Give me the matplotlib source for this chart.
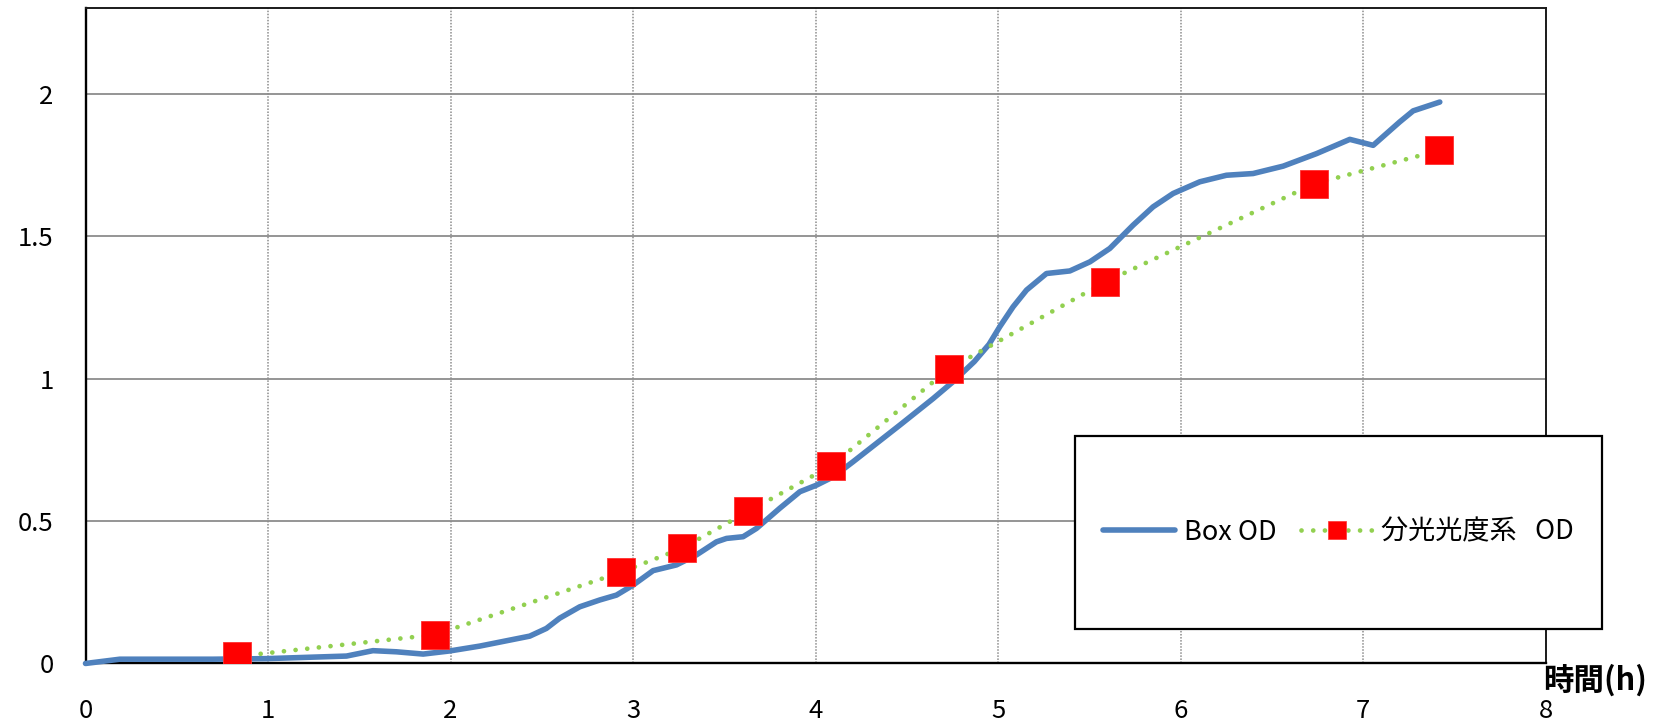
import matplotlib
matplotlib.use("Agg")
import matplotlib.pyplot as plt
from matplotlib.lines import Line2D
from matplotlib.patches import Rectangle

plt.rcParams['font.family'] = ['Noto Sans CJK JP', 'DejaVu Sans']

# ---- data ----
box_t = [0.0, 0.188, 0.699, 0.991, 1.43, 1.575, 1.703, 1.85, 1.996, 2.16,
         2.434, 2.525, 2.598, 2.708, 2.818, 2.909, 3.0, 3.11, 3.238, 3.347,
         3.457, 3.512, 3.603, 3.676, 3.804, 3.914, 4.005, 4.096, 4.205, 4.462,
         4.644, 4.753, 4.87, 4.95, 5.009, 5.082, 5.156, 5.265, 5.393, 5.503,
         5.612, 5.740, 5.849, 5.959, 6.105, 6.251, 6.397, 6.562, 6.745, 6.927,
         7.055, 7.2, 7.274, 7.42]
box_od = [0.0, 0.015, 0.015, 0.017, 0.026, 0.045, 0.041, 0.033, 0.044, 0.061,
          0.096, 0.123, 0.159, 0.199, 0.223, 0.240, 0.275, 0.326, 0.346, 0.381,
          0.427, 0.439, 0.445, 0.474, 0.545, 0.603, 0.626, 0.655, 0.708, 0.837,
          0.930, 0.989, 1.06, 1.12, 1.182, 1.252, 1.311, 1.369, 1.378, 1.410,
          1.457, 1.539, 1.603, 1.650, 1.691, 1.714, 1.720, 1.746, 1.790, 1.840,
          1.819, 1.901, 1.940, 1.971]

spec_t = [0.832, 1.915, 2.933, 3.267, 3.632, 4.083, 4.733, 5.583, 6.732, 7.416]
spec_od = [0.025, 0.101, 0.320, 0.404, 0.534, 0.693, 1.035, 1.338, 1.684, 1.801]

x_ticks = [0, 1, 2, 3, 4, 5, 6, 7, 8]
y_ticks = [0, 0.5, 1, 1.5, 2]
y_tick_labels = ["0", "0.5", "1", "1.5", "2"]
label_box = "Box OD"
label_spec = "分光光度系   OD"
x_label = "時間(h)"

BLUE = "#4F81BD"
GREEN = "#92D050"
RED = "#FF0000"
dot_style = (0, (0.01, 2.47))

fig = plt.figure(figsize=(16.57, 7.24), dpi=100)
ax = fig.add_axes([0.0516, 0.0836, 0.9328 - 0.0516, 0.9885 - 0.0836])

ax.plot(box_t, box_od, color=BLUE, lw=4.0, solid_capstyle='round',
        solid_joinstyle='round', zorder=3, clip_on=False)
ax.plot(spec_t, spec_od, color=GREEN, lw=3.4, linestyle=dot_style,
        dash_capstyle='round', zorder=4)
ax.plot(spec_t, spec_od, linestyle='none', marker='s', markersize=20,
        markerfacecolor=RED, markeredgecolor='#FF3030', markeredgewidth=0.6,
        zorder=5)

ax.set_xlim(0, 8)
ax.set_ylim(0, 2.3)
ax.set_xticks(x_ticks)
ax.set_xticklabels([str(v) for v in x_ticks])
ax.set_yticks(y_ticks)
ax.set_yticklabels(y_tick_labels)
ax.tick_params(axis='both', length=0, labelsize=18.5, colors='black')
ax.tick_params(axis='x', pad=25)
ax.tick_params(axis='y', pad=23)

ax.yaxis.grid(True, color='#8C8C8C', lw=1.3, linestyle='-')
ax.xaxis.grid(True, color='#8C8C8C', lw=1.1, linestyle=(0, (1, 1)))
ax.set_axisbelow(True)

for side in ['left', 'bottom']:
    ax.spines[side].set_color('black')
    ax.spines[side].set_linewidth(1.7)
for side in ['top', 'right']:
    ax.spines[side].set_color('#1a1a1a')
    ax.spines[side].set_linewidth(1.4)

# x axis title at the right end
fig.text(0.9626, 0.0598, x_label, ha='center', va='center',
         fontsize=22, fontweight='bold')

# legend box
rect = Rectangle((0.6488, 0.1312), 0.9666 - 0.6488, 0.3982 - 0.1312,
                 transform=fig.transFigure, facecolor='white',
                 edgecolor='black', lw=1.6, zorder=5)
fig.add_artist(rect)

h1 = Line2D([], [], color=BLUE, lw=4.0, solid_capstyle='round')
h2 = Line2D([], [], color=GREEN, lw=3.4, linestyle=dot_style,
            dash_capstyle='round', marker='s', markersize=13,
            markerfacecolor=RED, markeredgecolor='#FF3030', markeredgewidth=0.5)
leg = fig.legend([h1, h2], [label_box, label_spec], loc='center left',
                 bbox_to_anchor=(0.6657, 0.2648), ncol=2, frameon=False,
                 fontsize=19.5, handlelength=2.66, handletextpad=0.33,
                 columnspacing=0.88, borderpad=0, borderaxespad=0)
leg.set_zorder(6)

fig.savefig("out.png", dpi=100, facecolor='white')
